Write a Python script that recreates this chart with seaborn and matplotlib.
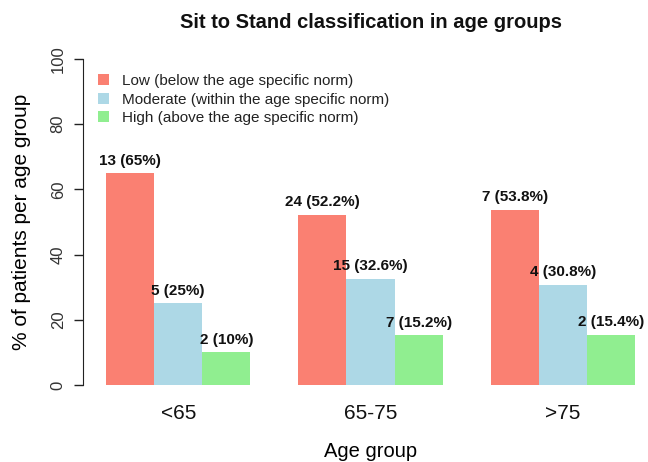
import matplotlib
matplotlib.use("Agg")
import matplotlib.pyplot as plt
import seaborn as sns
import pandas as pd

# data
age_groups = ['<65', '65-75', '>75']
classes = ['Low (below the age specific norm)',
           'Moderate (within the age specific norm)',
           'High (above the age specific norm)']
low_pct = [65, 52.2, 53.8]
moderate_pct = [25, 32.6, 30.8]
high_pct = [10, 15.2, 15.4]
low_n = [13, 24, 7]
moderate_n = [5, 15, 4]
high_n = [2, 7, 2]
colors = ['salmon', 'lightblue', 'lightgreen']

rows = []
for cls, pcts, ns in zip(classes, [low_pct, moderate_pct, high_pct], [low_n, moderate_n, high_n]):
    for g, p, n in zip(age_groups, pcts, ns):
        rows.append({'age': g, 'cls': cls, 'pct': p, 'n': n})
df = pd.DataFrame(rows)

sns.set_style('ticks')
plt.rcParams['font.family'] = ['Liberation Sans', 'DejaVu Sans']
plt.rcParams['text.color'] = 'black'
plt.rcParams['axes.labelcolor'] = 'black'

fig = plt.figure(figsize=(6.48, 4.62), dpi=100)
ax = fig.add_axes([83 / 648, 1 - 398 / 462, 575 / 648, 352 / 462])

sns.barplot(data=df, x='age', y='pct', hue='cls', palette=colors, width=0.75,
            gap=0, saturation=1, linewidth=0, errorbar=None, ax=ax)

# labels above bars
for cont, pcts, ns in zip(ax.containers, [low_pct, moderate_pct, high_pct], [low_n, moderate_n, high_n]):
    labels = [f"{n} ({p:g}%)" for n, p in zip(ns, pcts)]
    ax.bar_label(cont, labels=labels, padding=4, fontsize=11, fontweight='bold', color='#111111')

ax.set_xlim(-0.495, 2.495)
ax.set_ylim(-4, 104)
ax.set_yticks([0, 20, 40, 60, 80, 100])
ax.spines['left'].set_bounds(0, 100)
ax.spines['left'].set_color('#222222')
for s in ['top', 'right', 'bottom']:
    ax.spines[s].set_visible(False)
ax.tick_params(axis='y', length=6.5, width=1, labelsize=12, pad=6, labelrotation=90,
               color='#222222', labelcolor='#333333')
for lab in ax.get_yticklabels():
    lab.set_va('center')
ax.tick_params(axis='x', length=0, labelsize=15, pad=4.5, labelcolor='#111111')

ax.set_xlabel('Age group', fontsize=14.5)
ax.set_ylabel('% of patients per age group', fontsize=15)
ax.xaxis.set_label_coords(0.5, -0.125)
ax.yaxis.set_label_coords(-0.09, 0.5)

ax.set_title('Sit to Stand classification in age groups', fontsize=14.5,
             fontweight='bold', pad=13, color='#111111')

handles, labels = ax.get_legend_handles_labels()
ax.get_legend().remove()
fig.legend(handles, labels, loc='upper left', bbox_to_anchor=(98 / 648, 1 - 74 / 462),
           frameon=False, fontsize=11, handlelength=0.75, handleheight=0.75,
           handletextpad=0.85, labelspacing=0.3, borderpad=0, borderaxespad=0,
           labelcolor='#222222')

plt.savefig('out.png', dpi=100)
